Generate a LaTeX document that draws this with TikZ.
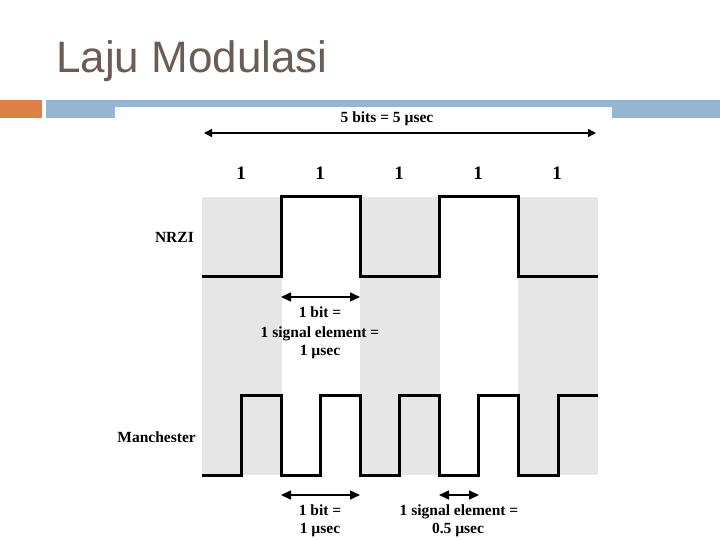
\documentclass[tikz,border=0pt]{standalone}
\usepackage{fontspec}
\setmainfont{Liberation Serif}
\newfontfamily\titlefont{Liberation Sans}
\usetikzlibrary{arrows.meta}
\definecolor{titlecol}{HTML}{6B5D55}
\definecolor{orangebar}{HTML}{DD8047}
\definecolor{bluebar}{HTML}{94B6D2}
\definecolor{colgray}{HTML}{E6E6E6}
\tikzset{
  wave/.style={line width=3pt, line join=miter, black},
  dim/.style={line width=1.5pt, {Triangle[length=10pt,width=9pt]}-{Triangle[length=10pt,width=9pt]}},
  dimtop/.style={line width=1.3pt, {Triangle[length=8pt,width=8pt]}-{Triangle[length=8pt,width=8pt]}},
  lbl/.style={font=\fontsize{15.5}{18}\selectfont\bfseries, inner sep=0pt, anchor=base},
  bitlbl/.style={font=\fontsize{19}{22}\selectfont\bfseries, inner sep=0pt, anchor=base},
}
\begin{document}
\begin{tikzpicture}[x=1pt,y=-1pt]
\useasboundingbox (0,0) rectangle (720,540);
% header
\node[anchor=base west, inner sep=0pt, text=titlecol, font=\titlefont\fontsize{44}{48}\selectfont] (title) at (56,73) {Laju Modulasi};
\fill[orangebar] (0,100) rectangle (42,118);
\fill[bluebar] (46,100) rectangle (720,118);
\fill[white] (115,107) rectangle (612,540);
% gray columns
\foreach \x in {202,360,518} \fill[colgray] (\x,197) rectangle ++(80,278);
% top dimension
\coordinate (tl) at (204,133);
\coordinate (tr) at (596,133);
\draw[dimtop] (tl) -- (tr);
\node[lbl] (total) at (387,123) {5 bits = 5 µsec};
% bit labels
\foreach \x/\n in {241/b1,320/b2,399/b3,478/b4,557/b5}
  \node[bitlbl] (\n) at (\x,180) {1};
% row labels
\node[lbl, anchor=base east] (nrzi) at (194,242) {NRZI};
\node[lbl, anchor=base east] (manch) at (196,442) {Manchester};
% NRZI waveform
\draw[wave] (202,276) -- (281,276) -- (281,197) -- (360,197) -- (360,276) -- (439,276) -- (439,197) -- (518,197) -- (518,276) -- (598,276);
% Manchester waveform
\draw[wave] (202,475) -- (241,475) -- (241,395) -- (281,395) -- (281,475) -- (320.5,475) -- (320.5,395) -- (360,395) -- (360,475) -- (399.5,475) -- (399.5,395) -- (439,395) -- (439,475) -- (478.5,475) -- (478.5,395) -- (518,395) -- (518,475) -- (558,475) -- (558,395) -- (598,395);
% NRZI dimension
\coordinate (n1) at (281,297);
\coordinate (n2) at (360,297);
\draw[dim] (n1) -- (n2);
\node[lbl] (nt1) at (320,317) {1 bit =};
\node[lbl] (nt2) at (320,337) {1 signal element =};
\node[lbl] (nt3) at (320,355) {1 µsec};
% Manchester dimensions
\coordinate (m1) at (281,495);
\coordinate (m2) at (360,495);
\draw[dim] (m1) -- (m2);
\node[lbl] (mt1) at (320,515) {1 bit =};
\node[lbl] (mt2) at (320,533) {1 µsec};
\coordinate (s1) at (439,495);
\coordinate (s2) at (479,495);
\draw[dim] (s1) -- (s2);
\node[lbl] (st1) at (459,515) {1 signal element =};
\node[lbl] (st2) at (458,533) {0.5 µsec};
\end{tikzpicture}
\end{document}
